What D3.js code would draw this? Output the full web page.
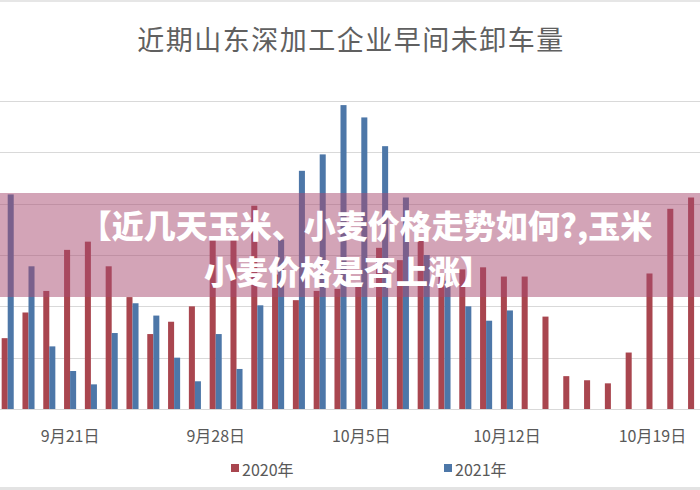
<!DOCTYPE html>
<html>
<head>
<meta charset="utf-8">
<script src="https://cdn.jsdelivr.net/npm/d3@7"></script>
<style>
  html, body { margin: 0; padding: 0; background: #fff; }
  svg { display: block; }
  text { font-family: "Noto Sans CJK SC", "Noto Sans", sans-serif; }
</style>
</head>
<body>
<svg id="chart" width="700" height="490"></svg>
<script>
const title = "近期山东深加工企业早间未卸车量";
const bannerLines = ["【近几天玉米、小麦价格走势如何?,玉米", "小麦价格是否上涨】"];
const dates = [
  "9月18日","9月19日","9月20日","9月21日","9月22日","9月23日","9月24日","9月25日",
  "9月26日","9月27日","9月28日","9月29日","9月30日","10月1日","10月2日","10月3日",
  "10月4日","10月5日","10月6日","10月7日","10月8日","10月9日","10月10日","10月11日",
  "10月12日","10月13日","10月14日","10月15日","10月16日","10月17日","10月18日","10月19日",
  "10月20日","10月21日"
];
const tickLabels = ["9月21日","9月28日","10月5日","10月12日","10月19日"];
const seriesNames = ["2020年","2021年"];
const values2020 = [69,94,115,155,163,139,109,73,85,100,166,168,198,131,106,115,117,123,157,145,165,130,136,138,129,129,90,32,28,25,55,132,195,206];
const values2021 = [209,139,61,37,24,74,103,91,50,27,73,39,101,165,232,248,296,284,256,206,150,125,100,86,96,null,null,null,null,null,null,null,null,null];
const yTicks = [0,50,100,150,200,250,300];
const colors = ["#a9464f","#4d77a8"];

const svg = d3.select("#chart");
const W = 700, H = 490;

// border strips
svg.append("rect").attr("x",0).attr("y",0).attr("width",W).attr("height",2).attr("fill","#e6e6e6");
svg.append("rect").attr("x",0).attr("y",H-3).attr("width",W).attr("height",3).attr("fill","#e3e3e3");

const x = d3.scaleBand().domain(dates).range([-2.7, 704.5]).paddingInner(0.42).paddingOuter(0.21);
const xs = d3.scaleBand().domain(seriesNames).range([0, x.bandwidth()]);
const y = d3.scaleLinear().domain([0,300]).range([409, 101]);

// title
svg.append("text").attr("x", 351).attr("y", 38).attr("text-anchor","middle")
  .attr("dominant-baseline","central").attr("font-size", 27).attr("letter-spacing", 1.5)
  .attr("fill","#606060").text(title);

// gridlines
svg.append("g").selectAll("line").data(yTicks).join("line")
  .attr("x1",0).attr("x2",W).attr("y1",d=>Math.round(y(d))+0.5).attr("y2",d=>Math.round(y(d))+0.5)
  .attr("stroke","#d9d9d9").attr("stroke-width",1);

// bars
const rows = dates.map((d,i)=>({date:d, vals:[values2020[i], values2021[i]]}));
const g = svg.append("g");
rows.forEach(r => {
  r.vals.forEach((v,si) => {
    if (v == null) return;
    g.append("rect")
      .attr("x", x(r.date) + xs(seriesNames[si]))
      .attr("width", xs.bandwidth())
      .attr("y", y(v))
      .attr("height", y(0) - y(v))
      .attr("fill", colors[si]);
  });
});

// x axis
const ax = svg.append("g").attr("transform","translate(0,409)")
  .call(d3.axisBottom(x).tickValues(tickLabels).tickSize(0).tickPadding(22));
ax.select(".domain").remove();
ax.selectAll("text").attr("font-size",16).attr("fill","#595959")
  .attr("font-family","\"Noto Sans CJK SC\", sans-serif");

// legend
const legend = svg.append("g");
const lx = [231, 444];
seriesNames.forEach((n,i)=>{
  legend.append("rect").attr("x", lx[i]).attr("y", 464).attr("width",8).attr("height",8).attr("fill",colors[i]);
  legend.append("text").attr("x", lx[i]+11).attr("y", 469).attr("dominant-baseline","central")
    .attr("font-size",16).attr("fill","#595959").text(n);
});

// banner overlay
svg.append("rect").attr("x",0).attr("y",193).attr("width",W).attr("height",104)
  .attr("fill","rgba(168,74,112,0.5)");
const bcx = [366, 348], bcy = [224, 270];
bannerLines.forEach((t,i)=>{
  svg.append("text").attr("x", bcx[i]).attr("y", bcy[i]).attr("text-anchor","middle")
    .attr("dominant-baseline","central").attr("font-size",32).attr("font-weight",900)
    .attr("fill","#ffffff").text(t);
});
</script>
</body>
</html>
